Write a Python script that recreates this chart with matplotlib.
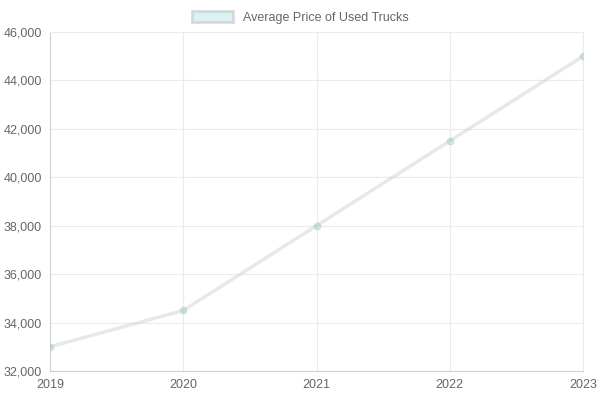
import matplotlib
matplotlib.use("Agg")
import matplotlib.pyplot as plt
from matplotlib.ticker import FuncFormatter
from matplotlib.patches import Patch

years = ["2019", "2020", "2021", "2022", "2023"]
prices = [33000, 34500, 38000, 41500, 45000]
label = "Average Price of Used Trucks"

plt.rcParams['font.family'] = ['Liberation Sans', 'DejaVu Sans']
fig = plt.figure(figsize=(6, 4), dpi=100)
ax = fig.add_axes([50/600, 1-371/400, 533/600, 339/400])
x = list(range(len(years)))
ax.plot(x, prices, color=(0.79, 0.8, 0.81, 0.45), lw=2.5, zorder=3,
        marker='o', ms=4.5, mfc=(75/255, 192/255, 192/255, 0.25), mec=(0.79, 0.8, 0.81, 0.7), mew=1)
ax.set_xlim(0, 4)
ax.set_ylim(32000, 46000)
ax.set_xticks(x, years)
ax.set_yticks(range(32000, 46001, 2000))
ax.yaxis.set_major_formatter(FuncFormatter(lambda v, p: f"{int(v):,}"))
ax.grid(True, color='#ebebeb', lw=0.8)
for s in ax.spines.values():
    s.set_color('#ebebeb')
ax.spines['left'].set_color('#d0d0d0')
ax.spines['bottom'].set_color('#d0d0d0')
ax.tick_params(colors='#666666', labelsize=9, length=0, pad=6)
for t in ax.get_xticklabels() + ax.get_yticklabels():
    t.set_color('#666666')
h = Patch(facecolor=(75/255, 192/255, 192/255, 0.2), edgecolor=(0.79, 0.8, 0.81, 0.7), lw=2)
fig.legend([h], [label], loc='upper center', bbox_to_anchor=(0.5, 1.0), frameon=False,
           fontsize=9, labelcolor='#666666', handlelength=3.3, handleheight=1.0)
fig.savefig("out.png", dpi=100)
